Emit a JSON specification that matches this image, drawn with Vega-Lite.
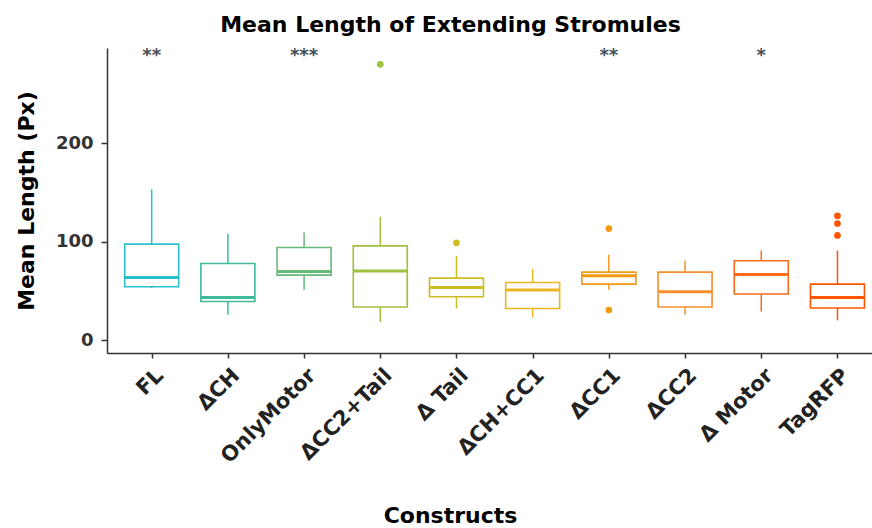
{
  "$schema": "https://vega.github.io/schema/vega-lite/v6.json",
  "width": 765,
  "height": 305,
  "autosize": {"type": "none"},
  "padding": {"left": 107, "top": 48, "right": 0, "bottom": 175},
  "background": "white",
  "title": {
    "text": "Mean Length of Extending Stromules",
    "font": "DejaVu Sans",
    "fontSize": 22,
    "fontWeight": "bold",
    "color": "black",
    "anchor": "middle",
    "dx": -39,
    "offset": 10
  },
  "config": {
    "view": {"stroke": null},
    "axis": {"grid": false, "domainColor": "#333333", "domainWidth": 1.5, "tickColor": "#333333", "tickWidth": 1.5}
  },
  "datasets": {
    "boxes": [
      {"construct": "FL", "lower": 53, "q1": 54.3, "median": 63.8, "q3": 97.7, "upper": 153.5},
      {"construct": "ΔCH", "lower": 25.9, "q1": 39.4, "median": 43.5, "q3": 78, "upper": 108.1},
      {"construct": "OnlyMotor", "lower": 51.3, "q1": 66.2, "median": 69.8, "q3": 94.2, "upper": 109.4},
      {"construct": "ΔCC2+Tail", "lower": 18.5, "q1": 33.7, "median": 70.3, "q3": 95.9, "upper": 125.4},
      {"construct": "Δ Tail", "lower": 32.3, "q1": 44.2, "median": 53.6, "q3": 63.1, "upper": 85.8},
      {"construct": "ΔCH+CC1", "lower": 23.1, "q1": 32.3, "median": 51, "q3": 58.7, "upper": 72.3},
      {"construct": "ΔCC1", "lower": 51.3, "q1": 57, "median": 65.5, "q3": 69.2, "upper": 86.8},
      {"construct": "ΔCC2", "lower": 25.9, "q1": 33.7, "median": 49.2, "q3": 69.2, "upper": 81},
      {"construct": "Δ Motor", "lower": 29.2, "q1": 46.9, "median": 66.8, "q3": 80.7, "upper": 91.2},
      {"construct": "TagRFP", "lower": 20.1, "q1": 32.7, "median": 43.5, "q3": 57, "upper": 91.2}
    ],
    "outliers": [
      {"construct": "ΔCC2+Tail", "value": 280.4},
      {"construct": "Δ Tail", "value": 99},
      {"construct": "ΔCC1", "value": 113.5},
      {"construct": "ΔCC1", "value": 30.7},
      {"construct": "TagRFP", "value": 126.4},
      {"construct": "TagRFP", "value": 118.5},
      {"construct": "TagRFP", "value": 106.5}
    ],
    "stars": [
      {"construct": "FL", "label": "**", "value": 289},
      {"construct": "OnlyMotor", "label": "***", "value": 289},
      {"construct": "ΔCC1", "label": "**", "value": 289},
      {"construct": "Δ Motor", "label": "*", "value": 289}
    ]
  },
  "encoding": {
    "x": {
      "field": "construct",
      "type": "nominal",
      "sort": ["FL", "ΔCH", "OnlyMotor", "ΔCC2+Tail", "Δ Tail", "ΔCH+CC1", "ΔCC1", "ΔCC2", "Δ Motor", "TagRFP"],
      "scale": {"type": "point", "padding": 0.52, "align": 0.564},
      "axis": {
        "title": "Constructs",
        "titleFont": "DejaVu Sans",
        "titleFontSize": 22,
        "titleFontWeight": "bold",
        "titleColor": "black",
        "titleX": 343,
        "titleY": 162,
        "titleBaseline": "middle",
        "titleAlign": "center",
        "labelAngle": -45,
        "labelAlign": "right",
        "labelBaseline": "middle",
        "labelFont": "DejaVu Sans",
        "labelFontSize": 21,
        "labelFontWeight": "bold",
        "labelColor": "#222222",
        "labelPadding": 14,
        "labelOffset": 8,
        "tickSize": 5
      }
    },
    "color": {
      "field": "construct",
      "type": "nominal",
      "scale": {
        "domain": ["FL", "ΔCH", "OnlyMotor", "ΔCC2+Tail", "Δ Tail", "ΔCH+CC1", "ΔCC1", "ΔCC2", "Δ Motor", "TagRFP"],
        "range": ["#2bbfcc", "#3dbb9c", "#66bb78", "#a0c040", "#cdbd22", "#ebb624", "#f49a12", "#f7902c", "#fc6a1c", "#ff5500"]
      },
      "legend": null
    }
  },
  "layer": [
    {
      "data": {"name": "boxes"},
      "mark": {"type": "rule", "strokeWidth": 1.5},
      "encoding": {
        "y": {
          "field": "lower",
          "type": "quantitative",
          "scale": {"domain": [-13, 297], "nice": false, "zero": false},
          "axis": {
            "title": "Mean Length (Px)",
            "titleFont": "DejaVu Sans",
            "titleFontSize": 22,
            "titleFontWeight": "bold",
            "titleColor": "black",
            "titlePadding": 17,
            "values": [0, 100, 200],
            "labelFont": "DejaVu Sans",
            "labelFontSize": 18,
            "labelFontWeight": "bold",
            "labelColor": "#333333",
            "labelPadding": 8,
            "tickSize": 6
          }
        },
        "y2": {"field": "upper"}
      }
    },
    {
      "data": {"name": "boxes"},
      "mark": {"type": "bar", "width": 54, "fill": "white", "strokeWidth": 1.6},
      "encoding": {
        "y": {"field": "q1", "type": "quantitative"},
        "y2": {"field": "q3"},
        "stroke": {"field": "construct", "type": "nominal", "scale": {"domain": ["FL", "ΔCH", "OnlyMotor", "ΔCC2+Tail", "Δ Tail", "ΔCH+CC1", "ΔCC1", "ΔCC2", "Δ Motor", "TagRFP"], "range": ["#2bbfcc", "#3dbb9c", "#66bb78", "#a0c040", "#cdbd22", "#ebb624", "#f49a12", "#f7902c", "#fc6a1c", "#ff5500"]}, "legend": null},
        "color": {"value": "white"}
      }
    },
    {
      "data": {"name": "boxes"},
      "mark": {"type": "tick", "size": 54, "thickness": 3, "opacity": 1},
      "encoding": {
        "y": {"field": "median", "type": "quantitative"}
      }
    },
    {
      "data": {"name": "outliers"},
      "mark": {"type": "point", "filled": true, "size": 45, "opacity": 1},
      "encoding": {
        "y": {"field": "value", "type": "quantitative"}
      }
    },
    {
      "data": {"name": "stars"},
      "mark": {"type": "text", "font": "DejaVu Sans", "fontSize": 18, "fontWeight": "bold", "baseline": "middle"},
      "encoding": {
        "y": {"field": "value", "type": "quantitative"},
        "text": {"field": "label"},
        "color": {"value": "#444c58"}
      }
    }
  ]
}
